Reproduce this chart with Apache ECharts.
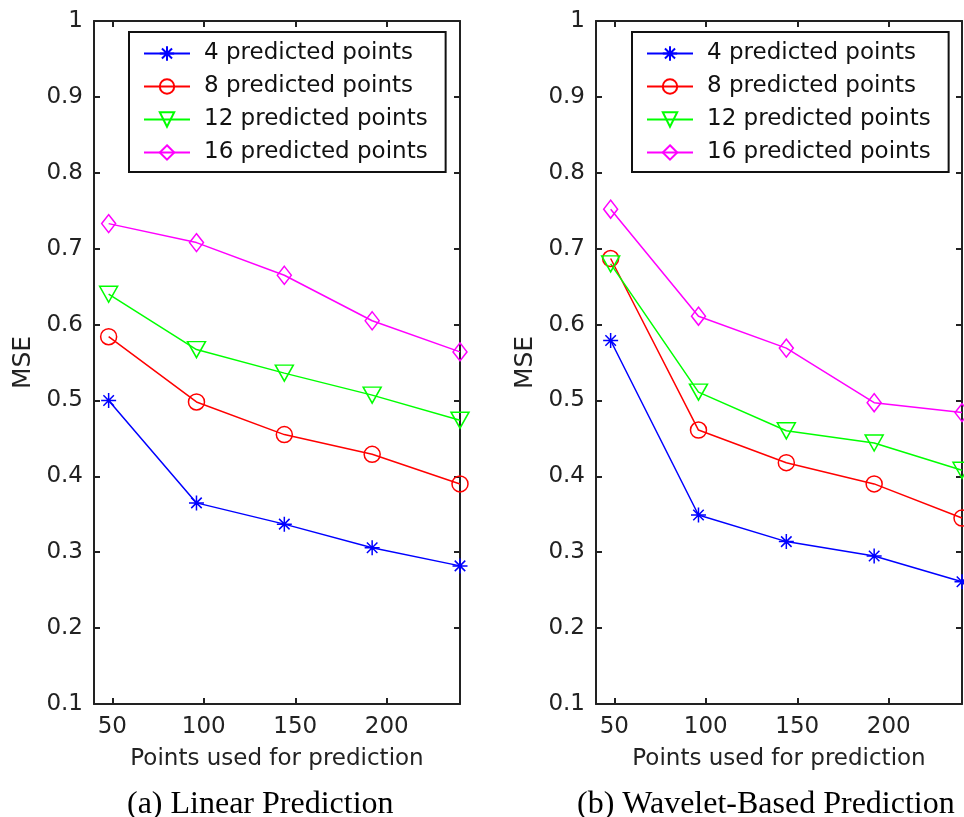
<!DOCTYPE html>
<html>
<head>
<meta charset="utf-8">
<script src="https://cdn.jsdelivr.net/npm/echarts@6/dist/echarts.min.js"></script>
<style>
  html, body { margin: 0; padding: 0; background: #fff; }
  #main { width: 964px; height: 817px; }
</style>
</head>
<body>
<div id="main"></div>
<script>
  // points used for prediction (x)
  var pointsUsed = [48, 96, 144, 192, 240];
  var xTicks = [50, 100, 150, 200];
  var seriesNames = ['4 predicted points', '8 predicted points', '12 predicted points', '16 predicted points'];

  // (a) linear prediction MSE
  var linear4 = [0.500, 0.365, 0.337, 0.306, 0.282];
  var linear8 = [0.584, 0.498, 0.455, 0.429, 0.390];
  var linear12 = [0.640, 0.567, 0.536, 0.507, 0.474];
  var linear16 = [0.733, 0.708, 0.665, 0.605, 0.564];

  // (b) wavelet-based prediction MSE
  var wavelet4 = [0.579, 0.349, 0.314, 0.295, 0.261];
  var wavelet8 = [0.687, 0.461, 0.418, 0.390, 0.345];
  var wavelet12 = [0.680, 0.511, 0.460, 0.444, 0.408];
  var wavelet16 = [0.752, 0.611, 0.569, 0.497, 0.484];

  var chart = echarts.init(document.getElementById('main'));

  var font = 'DejaVu Sans';
  var axisColor = '#222';
  var colors = ['#0000ff', '#ff0000', '#00ff00', '#ff00ff'];
  var symbols = [
    'path://M5,0L5,10M0,5L10,5M1.5,1.5L8.5,8.5M8.5,1.5L1.5,8.5',
    'circle',
    'path://M0,0L10,0L5,10Z',
    'diamond'
  ];
  var symbolSizes = [15, 16, [18, 16], [14, 18]];

  function pairs(vals) {
    return pointsUsed.map(function (x, i) { return [x, vals[i]]; });
  }

  function xAx(grid, pos) {
    return {
      type: 'value', gridIndex: grid, position: pos, min: 40, max: 240,
      name: pos === 'bottom' ? 'Points used for prediction' : '',
      nameLocation: 'middle', nameGap: 44,
      nameTextStyle: { fontFamily: font, fontSize: 23, color: axisColor },
      axisLine: { show: true, onZero: false, lineStyle: { color: axisColor, width: 2 } },
      axisTick: { show: true, inside: true, length: 6, customValues: xTicks, lineStyle: { color: axisColor, width: 2 } },
      axisLabel: { show: pos === 'bottom', customValues: xTicks, margin: 12, fontFamily: font, fontSize: 23, color: axisColor },
      splitLine: { show: false }
    };
  }

  function yAx(grid, pos) {
    return {
      type: 'value', gridIndex: grid, position: pos, min: 0.1, max: 1, interval: 0.1,
      name: pos === 'left' ? 'MSE' : '',
      nameLocation: 'middle', nameGap: 58, nameRotate: 90,
      nameTextStyle: { fontFamily: font, fontSize: 25, color: axisColor },
      axisLine: { show: true, onZero: false, lineStyle: { color: axisColor, width: 2 } },
      axisTick: { show: true, inside: true, length: 6, lineStyle: { color: axisColor, width: 2 } },
      axisLabel: { show: pos === 'left', margin: 11, fontFamily: font, fontSize: 23, color: axisColor,
        formatter: function (v) { return String(Math.round(v * 10) / 10); } },
      splitLine: { show: false }
    };
  }

  function makeSeries(grid, sets) {
    return sets.map(function (vals, i) {
      return {
        name: seriesNames[i], type: 'line',
        xAxisIndex: grid * 2, yAxisIndex: grid * 2,
        data: pairs(vals),
        symbol: symbols[i], symbolSize: symbolSizes[i],
        showAllSymbol: true, clip: false,
        lineStyle: { color: colors[i], width: 1.5 },
        itemStyle: { color: 'rgba(255,255,255,0)', borderColor: colors[i], borderWidth: 1.5 },
        emphasis: { disabled: true },
        z: 3
      };
    });
  }

  function legend(left) {
    return {
      left: left, top: 32, orient: 'vertical',
      data: seriesNames,
      backgroundColor: '#fff', borderColor: '#111', borderWidth: 2,
      padding: [10, 18, 8, 14],
      itemWidth: 46, itemHeight: 18, itemGap: 10,
      textStyle: { fontFamily: font, fontSize: 23, color: '#111', lineHeight: 20, padding: [0, 0, 0, 9] },
      selectedMode: false
    };
  }

  var option = {
    animation: false,
    backgroundColor: '#fff',
    grid: [
      { left: 94, top: 21, width: 366, height: 683 },
      { left: 596, top: 21, width: 366, height: 683 }
    ],
    xAxis: [xAx(0, 'bottom'), xAx(0, 'top'), xAx(1, 'bottom'), xAx(1, 'top')],
    yAxis: [yAx(0, 'left'), yAx(0, 'right'), yAx(1, 'left'), yAx(1, 'right')],
    legend: [legend(129), legend(632)],
    series: makeSeries(0, [linear4, linear8, linear12, linear16])
      .concat(makeSeries(1, [wavelet4, wavelet8, wavelet12, wavelet16])),
    graphic: [
      { type: 'text', left: 127, top: 789,
        style: { text: '(a) Linear Prediction', fontFamily: 'Liberation Serif', fontSize: 32, fill: '#000' } },
      { type: 'text', left: 577, top: 789,
        style: { text: '(b) Wavelet-Based Prediction', fontFamily: 'Liberation Serif', fontSize: 32, fill: '#000' } }
    ]
  };

  chart.setOption(option);
  window.addEventListener('resize', function () {
    chart.resize();
  });
</script>
</body>
</html>
